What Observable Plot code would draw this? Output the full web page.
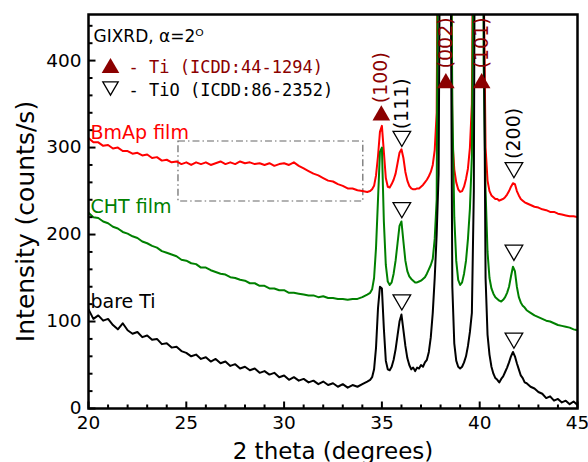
<!DOCTYPE html>
<html><head><meta charset="utf-8">
<script src="https://cdn.jsdelivr.net/npm/d3@7"></script>
<script src="https://cdn.jsdelivr.net/npm/@observablehq/plot@0.6"></script>
<style>html,body{margin:0;padding:0;background:#fff;}</style>
</head><body><div id="chart"></div>
<script>
const twoTheta = [20,20.25,20.5,20.75,21,21.25,21.5,21.75,22,22.25,
22.5,22.75,23,23.25,23.5,23.75,24,24.25,24.5,24.75,
25,25.25,25.5,25.75,26,26.25,26.5,26.75,27,27.25,
27.5,27.75,28,28.25,28.5,28.75,29,29.25,29.5,29.75,
30,30.25,30.5,30.75,31,31.25,31.5,31.75,32,32.25,
32.5,32.75,33,33.25,33.5,33.75,34,34.25,
34.4,34.5,34.6,34.7,34.8,34.9,35,35.1,35.2,35.3,
35.4,35.5,35.6,35.7,35.8,35.9,36,36.1,36.2,36.3,
36.4,36.5,36.6,36.7,36.8,36.9,37,37.1,37.2,37.3,
37.4,37.5,37.6,37.7,37.8,37.9,38,38.1,38.2,38.3,
38.4,38.5,38.6,38.7,38.8,38.9,39,39.1,39.2,39.3,
39.4,39.5,39.6,39.7,39.8,39.9,40,40.1,40.2,40.3,
40.4,40.5,40.6,40.7,40.8,40.9,41,41.1,41.2,41.3,
41.4,41.5,41.6,41.7,41.8,41.9,42,42.1,42.2,42.3,
42.4,
42.6,42.8,43,43.2,43.4,43.6,43.8,44,44.2,44.4,44.6,44.8,45];

const bareTi = [114,103,107,101,103,96,91,98,90,86,
88,82,84,79,80,74,75,70,71,66,
64,60,62,57,59,54,57,52,54,49,
51,46,48,44,46,41,43,39,41,36,
38,33,36,32,34,30,32,28,31,27,
29,25,28,24,27,25,28,31,
33,36,45,70,115,140,138,92,55,45,
44,48,56,68,84,100,108,90,72,58,
50,45,47,43,47,46,50,48,53,56,
65,82,110,150,200,270,700,1500,2000,2000,
1500,600,140,75,55,48,46,48,53,60,
72,88,110,250,900,1500,1600,1200,500,150,
85,62,48,40,35,33,30,34,37,42,
47,53,60,65,60,52,45,38,35,30,
29,
25,23,19,17,12,14,9,11,7,9,5,8,4];

const chtFilm = [225,220,219,215,213,209,207,203,201,198,
196,192,190,187,185,181,179,177,175,171,
170,167,166,162,162,159,157,155,154,151,
150,148,147,144,144,141,141,138,138,136,
136,133,133,132,131,130,130,128,129,127,
127,126,126,125,126,126,128,131,
133,137,150,185,240,295,300,215,165,146,
142,145,155,170,190,210,215,192,170,158,
152,149,147,145,145,146,147,149,151,155,
160,165,172,195,240,700,1500,2000,2000,1800,
1500,700,350,220,170,148,142,145,155,170,
195,230,290,600,1400,1800,1800,1400,400,250,
180,150,138,132,128,126,124,123,125,128,
133,140,152,163,158,140,128,122,118,116,
113,
110,107,105,103,101,100,98,96,95,94,93,91,90];

const bmapFilm = [311,306,306,302,303,299,300,296,296,293,
294,291,292,288,289,285,286,283,284,281,
283,280,283,281,283,280,282,284,281,283,
281,284,282,283,281,282,280,282,279,281,
282,280,283,279,276,273,270,268,265,262,
261,258,256,253,253,251,250,249,
250,252,256,268,290,318,325,295,265,255,
254,258,263,270,282,294,298,288,272,262,
256,253,252,252,253,253,255,257,260,263,
267,272,280,297,340,700,1500,2000,2000,1800,
1500,700,310,275,260,252,249,250,255,264,
276,300,350,700,1400,1800,1800,1400,500,300,
262,250,245,243,241,241,239,240,241,243,
246,250,255,259,258,250,245,241,239,237,
236,
234,232,231,229,228,226,226,224,223,222,221,221,220];

const xTicks = [20,25,30,35,40,45];
const xMinorTicks = [21,22,23,24,26,27,28,29,31,32,33,34,36,37,38,39,41,42,43,44];
const yTicks = [0,100,200,300,400];
const yMinorTicks = [20,40,60,80,120,140,160,180,220,240,260,280,320,340,360,380,420,440];

const seriesNames = ["bare Ti","CHT film","BmAp film"];
const seriesColors = ["#000000","#008000","#ff0000"];
const seriesLabelY = [116,225,310];

const tiPeaks = ["(100)","(002)","(101)"];
const tiPeakX = [34.97,38.27,40.1];
const tiMarkY = [340,377,377];
const tiLabelY = [351,391,391];

const tioPeaks = ["(111)","(200)"];
const tioPeakX = [36.02,41.75];
const tioLabelY = [321,287];
const tioMarkX = [36.02,41.75,36.02,41.75,36.02,41.75];
const tioMarkY = [310,274,228,179,122,78];

const zoomBox = [{x1:24.6,x2:34.05,y1:238,y2:307}];

const legendTi = "- Ti (ICDD:44-1294)";
const legendTiO = "- TiO (ICDD:86-2352)";
const titleText = "GIXRD, \u03b1=2\u1d3c";
const xLabel = "2 theta (degrees)";
const yLabel = "Intensity (counts/s)";

const darkRed = "#8b0000";

function tri(up){
  return {draw(ctx,size){
    const r=Math.sqrt(size/Math.PI), w=r*1.1, h=r*0.95;
    if(up){ctx.moveTo(0,-h);ctx.lineTo(w,h);ctx.lineTo(-w,h);}
    else{ctx.moveTo(0,h);ctx.lineTo(w,-h);ctx.lineTo(-w,-h);}
    ctx.closePath();
  }};
}
function tickSym(dx,dy){
  return {draw(ctx){ctx.moveTo(0,0);ctx.lineTo(dx,dy);}};
}
const triUp = tri(true), triDown = tri(false);

const chart = Plot.plot({
  width:588, height:462,
  marginLeft:88, marginRight:11, marginTop:14, marginBottom:54,
  x:{domain:[20,45]},
  y:{domain:[0,453]},
  style:{fontFamily:"DejaVu Sans", fontSize:"18.5px", background:"white", color:"black"},
  marks:[
    Plot.rect(zoomBox,{x1:"x1",x2:"x2",y1:"y1",y2:"y2",fill:"none",stroke:"#666",strokeWidth:1.2,strokeDasharray:"7,3,1.5,3"}),
    Plot.line(twoTheta,{x:twoTheta,y:bmapFilm,stroke:seriesColors[2],strokeWidth:2,clip:true}),
    Plot.line(twoTheta,{x:twoTheta,y:chtFilm,stroke:seriesColors[1],strokeWidth:2,clip:true}),
    Plot.line(twoTheta,{x:twoTheta,y:bareTi,stroke:seriesColors[0],strokeWidth:2,clip:true}),
    Plot.text(seriesNames,{frameAnchor:"left",y:seriesLabelY,dx:2,textAnchor:"start",lineAnchor:"bottom",fill:seriesColors,fontSize:19}),
    Plot.dot(tiPeaks,{x:tiPeakX,y:tiMarkY,symbol:triUp,r:8,fill:darkRed,stroke:"none"}),
    Plot.text(tiPeaks,{x:tiPeakX,y:tiLabelY,rotate:-90,textAnchor:"start",lineAnchor:"middle",fill:darkRed,fontSize:19}),
    Plot.dot(tioMarkY,{x:tioMarkX,y:tioMarkY,symbol:triDown,r:8,fill:"none",stroke:"black",strokeWidth:1.3}),
    Plot.text(tioPeaks,{x:tioPeakX,y:tioLabelY,rotate:-90,textAnchor:"start",lineAnchor:"middle",fill:"black",fontSize:19}),
    Plot.text([titleText],{frameAnchor:"top-left",dx:5,dy:27,textAnchor:"start",lineAnchor:"bottom",fontSize:17}),
    Plot.dot([0],{frameAnchor:"top-left",dx:22,dy:51,symbol:triUp,r:8,fill:darkRed,stroke:"none"}),
    Plot.dot([0],{frameAnchor:"top-left",dx:22,dy:74,symbol:triDown,r:7,fill:"none",stroke:"black",strokeWidth:1.3}),
    Plot.text([legendTi],{frameAnchor:"top-left",dx:40,dy:58,textAnchor:"start",lineAnchor:"bottom",fill:darkRed,fontFamily:"DejaVu Sans Mono",fontSize:17}),
    Plot.text([legendTiO],{frameAnchor:"top-left",dx:40,dy:81,textAnchor:"start",lineAnchor:"bottom",fill:"black",fontFamily:"DejaVu Sans Mono",fontSize:17}),
    Plot.frame({stroke:"black",strokeWidth:2.5}),
    Plot.dot(xTicks,{x:d=>d,frameAnchor:"bottom",symbol:tickSym(0,-7),r:1,stroke:"black",strokeWidth:2,fill:"none"}),
    Plot.dot(xMinorTicks,{x:d=>d,frameAnchor:"bottom",symbol:tickSym(0,-4),r:1,stroke:"black",strokeWidth:2,fill:"none"}),
    Plot.dot(yTicks,{y:d=>d,frameAnchor:"left",symbol:tickSym(7,0),r:1,stroke:"black",strokeWidth:2,fill:"none"}),
    Plot.dot(yMinorTicks,{y:d=>d,frameAnchor:"left",symbol:tickSym(4,0),r:1,stroke:"black",strokeWidth:2,fill:"none"}),
    Plot.axisX({ticks:xTicks,tickSize:0,tickPadding:7,label:null}),
    Plot.axisY({ticks:yTicks,tickSize:0,tickPadding:7,label:null}),
    Plot.text([xLabel],{frameAnchor:"bottom",dy:50,textAnchor:"middle",lineAnchor:"bottom",fontSize:23}),
    Plot.text([yLabel],{frameAnchor:"left",dx:-55,dy:10,rotate:-90,textAnchor:"middle",lineAnchor:"bottom",fontSize:25})
  ]
});
document.getElementById("chart").appendChild(chart);
</script>
</body></html>
